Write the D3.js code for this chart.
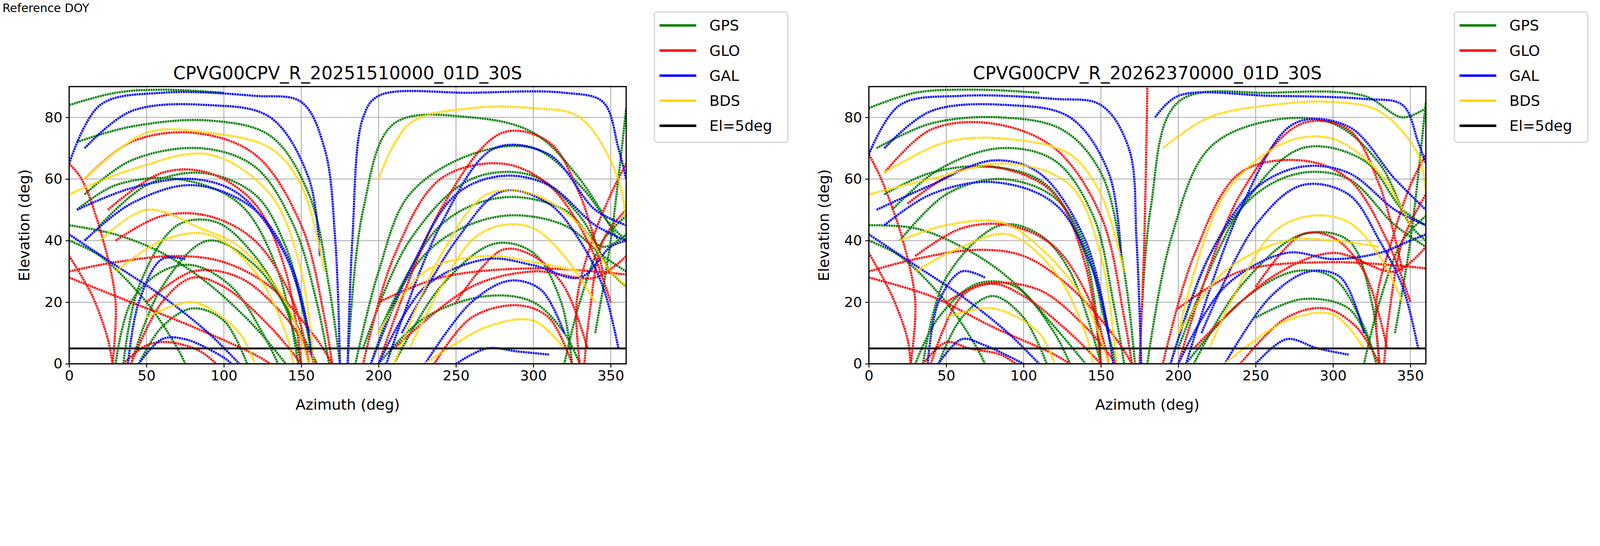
<!DOCTYPE html>
<html><head><meta charset="utf-8">
<script src="https://cdn.jsdelivr.net/npm/d3@7"></script>
<style>html,body{margin:0;padding:0;background:#fff;overflow:hidden}svg{display:block;font-family:"DejaVu Sans",sans-serif}</style>
</head><body>
<script>
const systems = ["GPS","GLO","GAL","BDS"];
const sysColors = ["#008000","#ff0000","#0000ff","#ffd700"];
const xTicks = [0,50,100,150,200,250,300,350];
const yTicks = [0,20,40,60,80];
const elMask = 5;
const titles = ["CPVG00CPV_R_20251510000_01D_30S","CPVG00CPV_R_20262370000_01D_30S"];

// Panel 1 tracks: [az, el] points per pass
const gps1 = [
 [[0,84],[30,88],[60,89],[100,88]],
 [[5,72],[40,77],[90,79],[130,74],[155,55],[168,25],[175,0]],
 [[10,55],[40,66],[85,70],[120,64],[145,45],[160,20],[168,0]],
 [[20,45],[50,58],[85,62],[120,55],[140,38],[152,15],[158,0]],
 [[35,0],[45,25],[70,45],[95,46],[120,35],[140,18],[150,0]],
 [[30,0],[40,20],[60,30],[80,32],[105,25],[125,10],[135,0]],
 [[0,45],[30,42],[60,36],[90,26],[120,12],[140,0]],
 [[185,0],[200,30],[220,55],[260,68],[300,70],[330,58],[350,45],[360,40]],
 [[195,0],[215,25],[240,40],[280,48],[320,45],[345,35],[360,30]],
 [[200,0],[230,15],[270,22],[300,20],[320,10],[330,0]],
 [[210,0],[240,25],[275,39],[300,36],[318,20],[325,0]],
 [[180,0],[190,50],[210,78],[260,80],[300,75],[330,60],[355,40]],
 [[340,10],[350,40],[360,83]],
 [[45,0],[60,12],[80,18],[100,14],[115,0]],
 [[0,40],[20,35],[50,20],[70,5],[75,0]],
 [[5,50],[30,58],[70,60],[110,52],[135,30],[148,0]],
 [[190,5],[220,40],[260,60],[300,61],[330,48],[350,30],[360,25]],
 [[320,0],[330,20],[345,40],[360,48]],
 [[40,0],[60,25],[90,40],[120,32],[150,10],[160,0]],
 [[200,10],[240,45],[280,54],[320,50],[345,38],[360,42]]
];
const glo1 = [
 [[0,30],[30,33],[70,35],[100,33],[130,25],[160,8],[170,0]],
 [[0,35],[15,22],[25,8],[28,0]],
 [[28,0],[30,20],[22,40],[8,60],[0,65]],
 [[40,0],[60,20],[80,28],[100,25],[130,12],[150,0]],
 [[35,0],[50,6],[65,7],[85,4],[95,0]],
 [[10,60],[40,72],[80,75],[120,68],[150,45],[165,15],[170,0]],
 [[25,50],[60,62],[90,62],[120,52],[140,30],[150,0]],
 [[190,0],[210,35],[240,60],[280,65],[310,58],[335,40],[350,20]],
 [[200,0],[240,50],[280,75],[310,72],[330,55],[345,30]],
 [[236,0],[260,15],[290,19],[310,15],[325,0]],
 [[333,0],[336,15],[345,40],[360,50]],
 [[200,20],[240,28],[300,31],[360,29]],
 [[210,5],[260,25],[300,30],[340,28],[360,35]],
 [[50,20],[80,30],[110,28],[140,15],[160,0]],
 [[0,28],[40,20],[80,12],[120,3],[130,0]],
 [[250,20],[280,37],[300,35],[320,25],[335,5]],
 [[330,0],[328,20],[338,40],[350,55],[360,65]],
 [[30,40],[60,48],[90,48],[120,40],[145,20],[155,0]]
];
const gal1 = [
 [[0,65],[20,84],[60,88],[120,87],[150,85],[165,70],[172,40],[175,0]],
 [[180,0],[183,40],[190,80],[200,87],[260,88],[320,88],[345,85],[355,70],[360,60]],
 [[10,40],[40,52],[80,58],[120,50],[145,30],[158,0]],
 [[5,50],[40,57],[80,60],[110,55],[140,35],[155,10]],
 [[38,0],[45,20],[60,34],[75,34]],
 [[45,0],[60,8],[75,8],[100,2],[105,0]],
 [[195,0],[220,30],[250,55],[280,61],[310,58],[340,45],[360,40]],
 [[215,10],[250,40],[280,56],[310,52],[330,40],[345,25],[355,5]],
 [[230,0],[260,20],[285,27],[305,24],[320,10]],
 [[250,0],[270,5],[290,4],[310,3]],
 [[200,0],[230,25],[270,34],[300,32],[330,28],[350,38],[360,40]],
 [[0,42],[30,32],[60,22],[90,10],[110,0]],
 [[10,70],[40,82],[90,84],[130,80],[155,60],[162,35]],
 [[205,0],[240,45],[275,70],[310,68],[340,50],[360,45]]
];
const bds1 = [
 [[200,60],[220,78],[260,83],[300,83],[330,80],[355,60],[360,45]],
 [[10,60],[50,75],[90,75],[130,70],[150,58],[165,30]],
 [[0,55],[40,63],[90,68],[130,55],[150,30],[158,0]],
 [[20,40],[50,50],[85,44],[110,38],[140,20],[155,0]],
 [[30,30],[60,40],[90,42],[120,30],[140,10],[145,0]],
 [[210,0],[240,35],[270,55],[300,55],[330,45],[350,30],[360,25]],
 [[220,5],[260,40],[280,45],[300,44],[320,35],[340,20]],
 [[230,0],[270,12],[300,14],[320,5]],
 [[50,15],[80,20],[110,10],[120,0]],
 [[200,10],[230,30],[270,35],[300,33],[330,30]]
];

// Panel 2 tracks
const gps2 = [
 [[0,83],[30,88],[70,89],[110,88]],
 [[5,70],[40,78],[85,80],[125,76],[150,62],[165,30],[172,0]],
 [[15,50],[45,63],[85,70],[120,66],[145,48],[158,20],[165,0]],
 [[20,40],[50,55],[85,60],[120,54],[140,38],[152,15],[160,0]],
 [[35,0],[50,28],[85,45],[110,42],[130,30],[150,0]],
 [[30,0],[45,15],[70,26],[95,25],[120,10],[130,0]],
 [[0,45],[30,44],[60,38],[90,28],[120,12],[140,0]],
 [[180,0],[195,40],[220,70],[260,79],[300,78],[330,65],[350,45],[360,40]],
 [[195,0],[220,35],[250,55],[280,62],[310,60],[340,45],[360,38]],
 [[205,0],[240,20],[275,30],[300,28],[320,12],[328,0]],
 [[210,0],[240,25],[280,42],[310,40],[325,20],[330,0]],
 [[175,0],[182,50],[200,85],[260,88],[320,87],[345,80],[360,83]],
 [[340,10],[350,40],[360,85]],
 [[45,0],[60,15],[80,22],[100,15],[115,0]],
 [[0,40],[20,35],[50,20],[70,5],[75,0]],
 [[10,55],[40,62],[80,64],[115,58],[140,35],[150,0]],
 [[250,15],[280,21],[310,18],[325,5]],
 [[320,0],[330,20],[345,40],[360,48]],
 [[200,5],[240,50],[280,70],[320,66],[345,50],[360,45]]
];
const glo2 = [
 [[0,30],[30,34],[70,37],[100,35],[130,25],[160,8],[170,0]],
 [[0,36],[15,22],[25,8],[27,0]],
 [[27,0],[30,20],[22,40],[8,60],[0,68]],
 [[40,0],[60,22],[80,26],[100,22],[130,10],[150,0]],
 [[35,0],[50,7],[65,5],[85,3],[95,0]],
 [[10,62],[40,76],[80,78],[120,70],[150,48],[165,15],[170,0]],
 [[25,52],[60,63],[90,63],[120,55],[140,32],[150,0]],
 [[175,0],[178,40],[180,90]],
 [[190,0],[210,35],[240,62],[280,66],[310,60],[335,40],[350,20]],
 [[200,0],[240,55],[280,78],[310,76],[330,58],[345,30]],
 [[240,0],[270,15],[295,18],[315,12],[330,0]],
 [[333,0],[336,15],[345,40],[360,55]],
 [[200,18],[240,30],[300,33],[360,31]],
 [[210,5],[260,28],[300,36],[340,30],[360,38]],
 [[50,20],[75,26],[110,24],[140,12],[160,0]],
 [[0,28],[40,22],[80,12],[120,3],[130,0]],
 [[250,25],[280,42],[300,41],[320,30],[335,5]],
 [[330,0],[328,20],[338,40],[350,58],[360,68]],
 [[30,35],[60,44],[90,45],[120,38],[145,18],[155,0]]
];
const gal2 = [
 [[0,68],[20,84],[60,87],[120,86],[150,84],[168,70],[173,40],[176,0]],
 [[185,80],[200,87],[260,87],[320,86],[345,84],[355,72],[360,65]],
 [[10,45],[40,55],[80,59],[120,52],[145,30],[158,0]],
 [[5,50],[40,58],[80,66],[110,62],[140,40],[155,10]],
 [[38,0],[45,20],[60,30],[75,28]],
 [[45,0],[60,8],[75,6],[100,0]],
 [[195,0],[220,35],[250,57],[280,64],[310,62],[340,50],[360,45]],
 [[215,10],[250,45],[280,58],[310,55],[330,40],[345,25],[355,5]],
 [[230,0],[260,22],[285,30],[305,28],[320,10]],
 [[250,0],[270,8],[290,5],[310,3]],
 [[200,0],[230,25],[270,36],[300,34],[330,36],[350,40],[360,42]],
 [[0,42],[30,32],[60,22],[90,10],[110,0]],
 [[10,70],[40,82],[90,84],[130,80],[155,62],[163,35]],
 [[205,0],[240,50],[275,78],[310,77],[340,60],[360,50]]
];
const bds2 = [
 [[190,70],[220,80],[260,84],[300,85],[330,82],[355,68],[360,55]],
 [[10,62],[50,72],[90,73],[130,68],[150,55],[165,30]],
 [[0,55],[40,60],[90,65],[130,58],[150,35],[160,0]],
 [[20,40],[50,45],[85,46],[110,38],[140,20],[155,0]],
 [[30,30],[60,38],[90,42],[120,30],[140,10],[145,0]],
 [[200,10],[230,55],[270,72],[300,73],[330,62],[350,45]],
 [[220,5],[260,42],[285,48],[310,46],[330,35],[345,20]],
 [[230,0],[270,14],[300,16],[320,5]],
 [[50,15],[80,18],[110,10],[120,0]],
 [[200,10],[230,30],[270,40],[300,40],[330,38]]
];

const panels = [
 {title: titles[0], tracks: [gps1, glo1, gal1, bds1], x0: 226, x1: 2046, legendX: 2138},
 {title: titles[1], tracks: [gps2, glo2, gal2, bds2], x0: 2839, x1: 4659, legendX: 4752}
];
const plotTop = 283, plotBottom = 1189;
const W = 5228, H = 1398;

const svg = d3.select("body").append("svg")
  .attr("viewBox",`0 0 ${W} ${H}`).attr("preserveAspectRatio","xMinYMin meet")
  .style("width","100vw").style("height","100vh");
svg.append("text").attr("x",8).attr("y",40).attr("font-size",38).text("Reference DOY");

panels.forEach((p,pi)=>{
  const x = d3.scaleLinear().domain([0,360]).range([p.x0,p.x1]);
  const y = d3.scaleLinear().domain([0,90]).range([plotBottom,plotTop]);
  const g = svg.append("g");
  const cid = "clip"+pi;
  g.append("clipPath").attr("id",cid).append("rect").attr("x",p.x0).attr("y",plotTop).attr("width",p.x1-p.x0).attr("height",plotBottom-plotTop);
  g.selectAll(".gx").data(xTicks).enter().append("line").attr("x1",d=>x(d)).attr("x2",d=>x(d)).attr("y1",plotTop).attr("y2",plotBottom).attr("stroke","#b0b0b0").attr("stroke-width",3);
  g.selectAll(".gy").data(yTicks).enter().append("line").attr("y1",d=>y(d)).attr("y2",d=>y(d)).attr("x1",p.x0).attr("x2",p.x1).attr("stroke","#b0b0b0").attr("stroke-width",3);
  const line = d3.line().x(d=>x(d[0])).y(d=>y(d[1])).curve(d3.curveCatmullRom);
  const tg = g.append("g").attr("clip-path",`url(#${cid})`);
  p.tracks.forEach((arr,si)=>{
    tg.selectAll(null).data(arr).enter().append("path").attr("d",line)
      .attr("fill","none").attr("stroke",sysColors[si]).attr("stroke-width",7)
      .attr("stroke-dasharray","6,2");
  });
  tg.append("line").attr("x1",x(0)).attr("x2",x(360)).attr("y1",y(elMask)).attr("y2",y(elMask)).attr("stroke","#000").attr("stroke-width",6);
  g.append("rect").attr("x",p.x0).attr("y",plotTop).attr("width",p.x1-p.x0).attr("height",plotBottom-plotTop).attr("fill","none").attr("stroke","#000").attr("stroke-width",4);
  const xa = g.append("g").attr("transform",`translate(0,${plotBottom})`).call(d3.axisBottom(x).tickValues(xTicks).tickSize(12).tickPadding(10));
  const ya = g.append("g").attr("transform",`translate(${p.x0},0)`).call(d3.axisLeft(y).tickValues(yTicks).tickSize(12).tickPadding(10));
  [xa,ya].forEach(a=>{a.select(".domain").remove();a.selectAll("line").attr("stroke-width",3);a.selectAll("text").attr("font-size",46).attr("font-family","DejaVu Sans");});
  g.append("text").attr("x",(p.x0+p.x1)/2).attr("y",plotBottom+150).attr("text-anchor","middle").attr("font-size",48).text("Azimuth (deg)");
  g.append("text").attr("transform",`translate(${p.x0-130},${(plotTop+plotBottom)/2}) rotate(-90)`).attr("text-anchor","middle").attr("font-size",48).text("Elevation (deg)");
  g.append("text").attr("x",(p.x0+p.x1)/2).attr("y",plotTop-24).attr("text-anchor","middle").attr("font-size",58).text(p.title);
  const lg = svg.append("g").attr("transform",`translate(${p.legendX},39)`);
  lg.append("rect").attr("width",436).attr("height",426).attr("rx",10).attr("fill","#fff").attr("stroke","#d6d6d6").attr("stroke-width",4);
  const items = systems.map((s,i)=>({label:s,color:sysColors[i]})).concat([{label:"El=5deg",color:"#000"}]);
  items.forEach((it,i)=>{
    const yy = 44 + i*82;
    lg.append("line").attr("x1",17).attr("x2",137).attr("y1",yy).attr("y2",yy).attr("stroke",it.color).attr("stroke-width",8);
    lg.append("text").attr("x",180).attr("y",yy+17).attr("font-size",48).text(it.label);
  });
});
</script>
</body></html>
